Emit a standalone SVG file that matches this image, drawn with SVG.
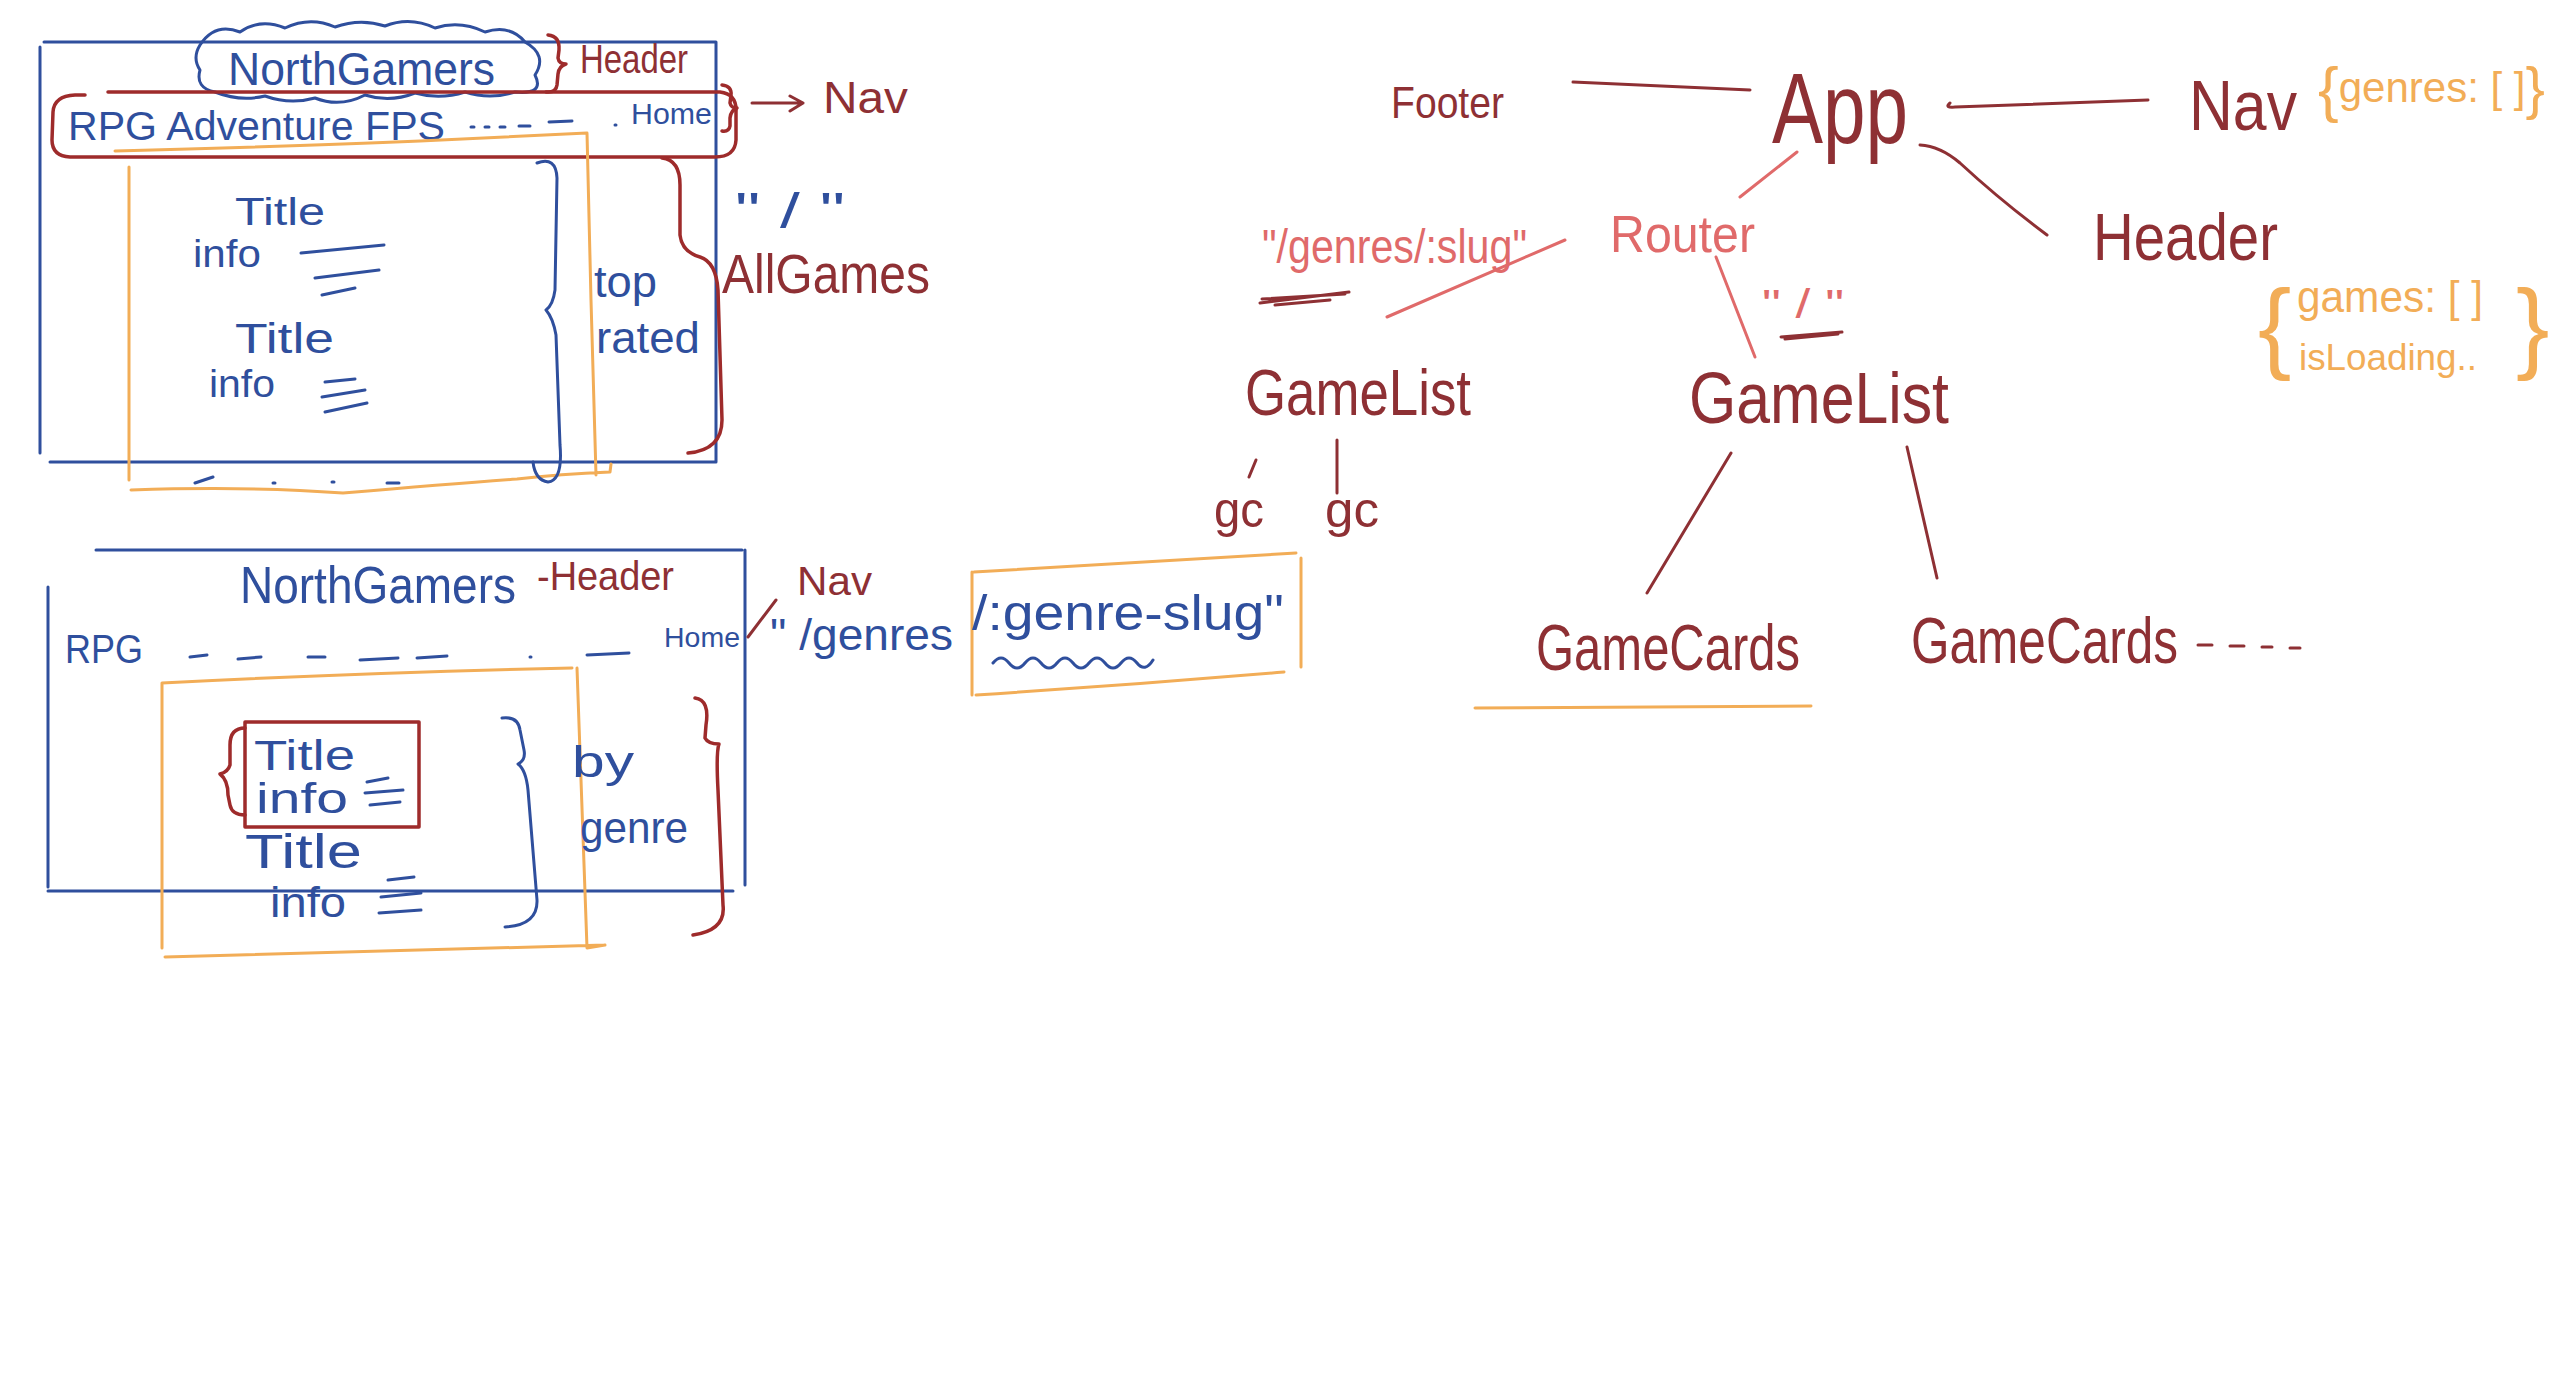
<svg xmlns="http://www.w3.org/2000/svg" width="2560" height="1395" viewBox="0 0 2560 1395">
<style>
text{font-family:"Liberation Sans","DejaVu Sans",sans-serif;}
.tb{fill:#2f4f9d}
.tr{fill:#8e3034}
.ts{fill:#e06a6a}
.to{fill:#f2ad57}
.sb{stroke:#2f4f9d;stroke-width:3;fill:none;stroke-linecap:round;stroke-linejoin:round}
.sr{stroke:#8e3034;stroke-width:3;fill:none;stroke-linecap:round;stroke-linejoin:round}
.sR{stroke:#9e2b2b;stroke-width:3.5;fill:none;stroke-linecap:round;stroke-linejoin:round}
.ss{stroke:#e06a6a;stroke-width:3;fill:none;stroke-linecap:round;stroke-linejoin:round}
.so{stroke:#f2ad57;stroke-width:3;fill:none;stroke-linecap:round;stroke-linejoin:round}
</style>
<rect width="2560" height="1395" fill="#ffffff"/>

<!-- ===== Top-left wireframe: All Games ===== -->
<g id="wire-allgames">
  <path class="sb" d="M44,42 L716,42 M40,47 L40,453 M716,42 L716,462 M50,462 L716,462"/>
  <path class="sb" d="M200,45 Q215,22 240,32 Q260,18 285,28 Q310,16 335,27 Q360,18 385,26 Q410,16 435,28 Q460,20 485,32 Q510,24 525,42 Q548,55 535,75 Q545,95 515,92 Q490,100 465,92 Q440,100 415,93 Q390,103 365,95 Q340,108 315,98 Q290,105 265,96 Q240,102 215,92 Q195,88 200,70 Q192,58 200,45 Z"/>
  <text class="tb" x="228" y="85" font-size="46" textLength="267" lengthAdjust="spacingAndGlyphs">NorthGamers</text>
  <path class="sR" d="M548,35 Q560,36 559,50 L558,58 Q559,64 566,64 Q559,66 558,74 L557,85 Q556,93 546,92"/>
  <text class="tr" x="580" y="73" font-size="40" textLength="108" lengthAdjust="spacingAndGlyphs">Header</text>
  <path class="sR" d="M108,92 L720,92 Q737,94 736,112 L736,140 Q735,157 715,157 L70,157 Q52,156 52,140 L53,112 Q54,96 75,95 L85,95"/>
  <text class="tb" x="68" y="140" font-size="40" textLength="377" lengthAdjust="spacingAndGlyphs">RPG Adventure FPS</text>
  <path class="sb" d="M471,127 L474,127 M485,127 L489,127 M500,127 L505,127 M519,126 L530,126 M549,122 L572,121 M615,125 L616,125"/>
  <text class="tb" x="631" y="124" font-size="30" textLength="81" lengthAdjust="spacingAndGlyphs">Home</text>
  <path class="sR" d="M722,85 Q732,86 731,95 L730,103 Q731,108 737,108 Q731,110 730,118 L730,126 Q729,132 722,131"/>
  <path class="sr" d="M752,103 L803,103 M790,96 L803,103 L790,111"/>
  <text class="tr" x="823" y="113" font-size="44" textLength="85" lengthAdjust="spacingAndGlyphs">Nav</text>
  <path class="so" d="M115,151 Q300,146 420,141 Q520,136 587,133 M587,133 L591,300 L596,475 M129,167 L129,480 M131,490 Q250,486 343,493 Q450,484 517,479 Q560,474 610,472 L611,464"/>
  <text class="tb" x="235" y="225" font-size="38" textLength="90" lengthAdjust="spacingAndGlyphs">Title</text>
  <text class="tb" x="193" y="267" font-size="38" textLength="68" lengthAdjust="spacingAndGlyphs">info</text>
  <path class="sb" d="M301,253 L384,245 M315,278 L379,270 M322,295 L355,288"/>
  <text class="tb" x="235" y="353" font-size="42" textLength="99" lengthAdjust="spacingAndGlyphs">Title</text>
  <text class="tb" x="209" y="397" font-size="38" textLength="66" lengthAdjust="spacingAndGlyphs">info</text>
  <path class="sb" d="M325,382 L355,379 M322,397 L365,390 M325,412 L367,403"/>
  <path class="sb" d="M195,483 L213,477 M273,483 L275,483 M332,482 L334,482 M387,483 L399,483"/>
  <path class="sb" d="M537,163 Q556,156 557,178 L555,290 Q553,305 546,310 Q553,318 556,335 L560,445 Q563,480 548,482 Q535,480 533,462"/>
  <text class="tb" x="594" y="297" font-size="44" textLength="63" lengthAdjust="spacingAndGlyphs">top</text>
  <text class="tb" x="596" y="353" font-size="44" textLength="104" lengthAdjust="spacingAndGlyphs">rated</text>
  <path class="sR" d="M662,158 Q680,160 680,185 L680,235 Q682,252 700,257 Q716,262 718,290 L722,420 Q722,450 688,453"/>
  <text class="tb" x="735" y="228" font-size="50" textLength="110" lengthAdjust="spacingAndGlyphs">" / "</text>
  <text class="tr" x="722" y="293" font-size="56" textLength="208" lengthAdjust="spacingAndGlyphs">AllGames</text>
</g>

<!-- ===== Bottom-left wireframe: by genre ===== -->
<g id="wire-bygenre">
  <path class="sb" d="M96,550 L742,550 M745,550 L745,885 M48,587 L48,887 M48,891 L733,891"/>
  <text class="tb" x="240" y="603" font-size="52" textLength="276" lengthAdjust="spacingAndGlyphs">NorthGamers</text>
  <text class="tr" x="537" y="590" font-size="40" textLength="137" lengthAdjust="spacingAndGlyphs">-Header</text>
  <text class="tb" x="65" y="663" font-size="40" textLength="78" lengthAdjust="spacingAndGlyphs">RPG</text>
  <path class="sb" d="M190,657 L207,655 M238,659 L261,657 M308,657 L325,657 M360,660 L398,658 M417,658 L447,656 M530,657 L531,657 M587,655 L629,653"/>
  <text class="tb" x="664" y="647" font-size="28" textLength="76" lengthAdjust="spacingAndGlyphs">Home</text>
  <path class="so" d="M162,683 Q380,672 572,668 M577,668 L587,948 L605,945 M165,957 Q400,950 605,945 M162,683 L162,948"/>
  <path class="sR" d="M245,722 L419,722 L419,827 L245,827 Z"/>
  <path class="sR" d="M245,728 Q230,728 230,745 L230,765 Q228,772 220,774 Q228,780 228,795 L230,805 Q232,815 245,815"/>
  <text class="tb" x="254" y="770" font-size="42" textLength="101" lengthAdjust="spacingAndGlyphs">Title</text>
  <text class="tb" x="256" y="813" font-size="42" textLength="92" lengthAdjust="spacingAndGlyphs">info</text>
  <path class="sb" d="M367,782 L388,778 M365,793 L403,790 M370,805 L400,802"/>
  <text class="tb" x="245" y="868" font-size="48" textLength="117" lengthAdjust="spacingAndGlyphs">Title</text>
  <text class="tb" x="270" y="917" font-size="42" textLength="76" lengthAdjust="spacingAndGlyphs">info</text>
  <path class="sb" d="M388,880 L414,877 M381,897 L421,893 M379,913 L421,910"/>
  <path class="sb" d="M502,718 Q518,716 520,730 L524,750 Q526,760 518,764 Q526,770 528,790 L537,900 Q538,925 505,927"/>
  <text class="tb" x="572" y="777" font-size="44" textLength="62" lengthAdjust="spacingAndGlyphs">by</text>
  <text class="tb" x="580" y="843" font-size="44" textLength="108" lengthAdjust="spacingAndGlyphs">genre</text>
  <path class="sR" d="M695,698 Q710,700 706,725 L705,738 Q708,744 719,744 Q716,752 718,790 L723,905 Q726,930 693,935"/>
  <path class="sr" d="M748,637 L776,600"/>
  <text class="tr" x="797" y="595" font-size="40" textLength="75" lengthAdjust="spacingAndGlyphs">Nav</text>
  <text class="tb" x="770" y="650" font-size="44" textLength="183" lengthAdjust="spacingAndGlyphs">" /genres</text>
  <path class="so" d="M974,572 Q1140,562 1296,553 M1301,558 L1301,667 M976,695 Q1130,685 1284,672 M972,572 L972,695"/>
  <text class="tb" x="972" y="630" font-size="50" textLength="312" lengthAdjust="spacingAndGlyphs">/:genre-slug"</text>
  <path class="sb" d="M993,663 q8,-10 16,0 q8,10 16,0 q8,-10 16,0 q8,10 16,0 q8,-10 16,0 q8,10 16,0 q8,-10 16,0 q8,10 16,0 q8,-10 16,0 q8,10 16,-3"/>
</g>

<!-- ===== Component tree ===== -->
<g id="connectors">
  <path class="sr" d="M1573,82 L1750,90"/>
  <path class="sr" d="M1950,103 Q1944,108 1955,107 L2148,100"/>
  <path class="ss" d="M1797,152 L1740,197"/>
  <path class="sr" d="M1920,145 Q1940,146 1960,163 Q2000,200 2047,235"/>
  <path class="ss" d="M1565,240 L1387,317"/>
  <path class="ss" d="M1716,257 L1755,357"/>
  <path class="sr" d="M1256,460 L1249,477"/>
  <path class="sr" d="M1337,440 L1337,493"/>
  <path class="sr" d="M1731,453 L1647,593"/>
  <path class="sr" d="M1907,447 L1937,578"/>
</g>

<g id="node-footer"><text class="tr" x="1391" y="118" font-size="44" textLength="113" lengthAdjust="spacingAndGlyphs">Footer</text></g>
<g id="node-app"><text class="tr" x="1772" y="143" font-size="100" textLength="136" lengthAdjust="spacingAndGlyphs">App</text></g>
<g id="node-nav">
  <text class="tr" x="2189" y="130" font-size="70" textLength="108" lengthAdjust="spacingAndGlyphs">Nav</text>
  <text class="to" x="2318" y="110"><tspan font-size="62">{</tspan><tspan font-size="42" dy="-8">genres: [ ]</tspan><tspan font-size="58" dy="6">}</tspan></text>
</g>
<g id="node-router"><text class="ts" x="1610" y="252" font-size="52" textLength="145" lengthAdjust="spacingAndGlyphs">Router</text></g>
<g id="node-header">
  <text class="tr" x="2093" y="260" font-size="66" textLength="185" lengthAdjust="spacingAndGlyphs">Header</text>
</g>
<g id="state-games">
  <text class="to" x="2258" y="360" font-size="100">{</text>
  <text class="to" x="2297" y="312" font-size="44" textLength="186" lengthAdjust="spacingAndGlyphs">games: [ ]</text>
  <text class="to" x="2299" y="370" font-size="36" textLength="178" lengthAdjust="spacingAndGlyphs">isLoading..</text>
  <text class="to" x="2516" y="360" font-size="100">}</text>
</g>
<g id="label-genres-route">
  <text class="ts" x="1262" y="263" font-size="48" textLength="265" lengthAdjust="spacingAndGlyphs">"/genres/:slug"</text>
  <path class="sr" d="M1260,303 L1349,292 M1262,299 L1345,294 M1275,305 L1330,300"/>
</g>
<g id="label-root-route">
  <text class="ts" x="1762" y="318" font-size="40" textLength="82" lengthAdjust="spacingAndGlyphs">" / "</text>
  <path class="sr" d="M1781,337 L1842,332 M1785,339 L1838,334"/>
</g>
<g id="node-gamelist-genre"><text class="tr" x="1245" y="415" font-size="64" textLength="226" lengthAdjust="spacingAndGlyphs">GameList</text></g>
<g id="node-gc-1"><text class="tr" x="1214" y="527" font-size="50" textLength="50" lengthAdjust="spacingAndGlyphs">gc</text></g>
<g id="node-gc-2"><text class="tr" x="1325" y="527" font-size="50" textLength="54" lengthAdjust="spacingAndGlyphs">gc</text></g>
<g id="node-gamelist-all"><text class="tr" x="1689" y="423" font-size="72" textLength="260" lengthAdjust="spacingAndGlyphs">GameList</text></g>
<g id="node-gamecards-1">
  <text class="tr" x="1536" y="670" font-size="64" textLength="264" lengthAdjust="spacingAndGlyphs">GameCards</text>
  <path class="so" d="M1475,708 L1811,706"/>
</g>
<g id="node-gamecards-2">
  <text class="tr" x="1911" y="663" font-size="64" textLength="267" lengthAdjust="spacingAndGlyphs">GameCards</text>
  <path class="sr" d="M2198,645 L2212,645 M2230,646 L2244,646 M2262,647 L2272,647 M2290,648 L2300,648"/>
</g>
</svg>
